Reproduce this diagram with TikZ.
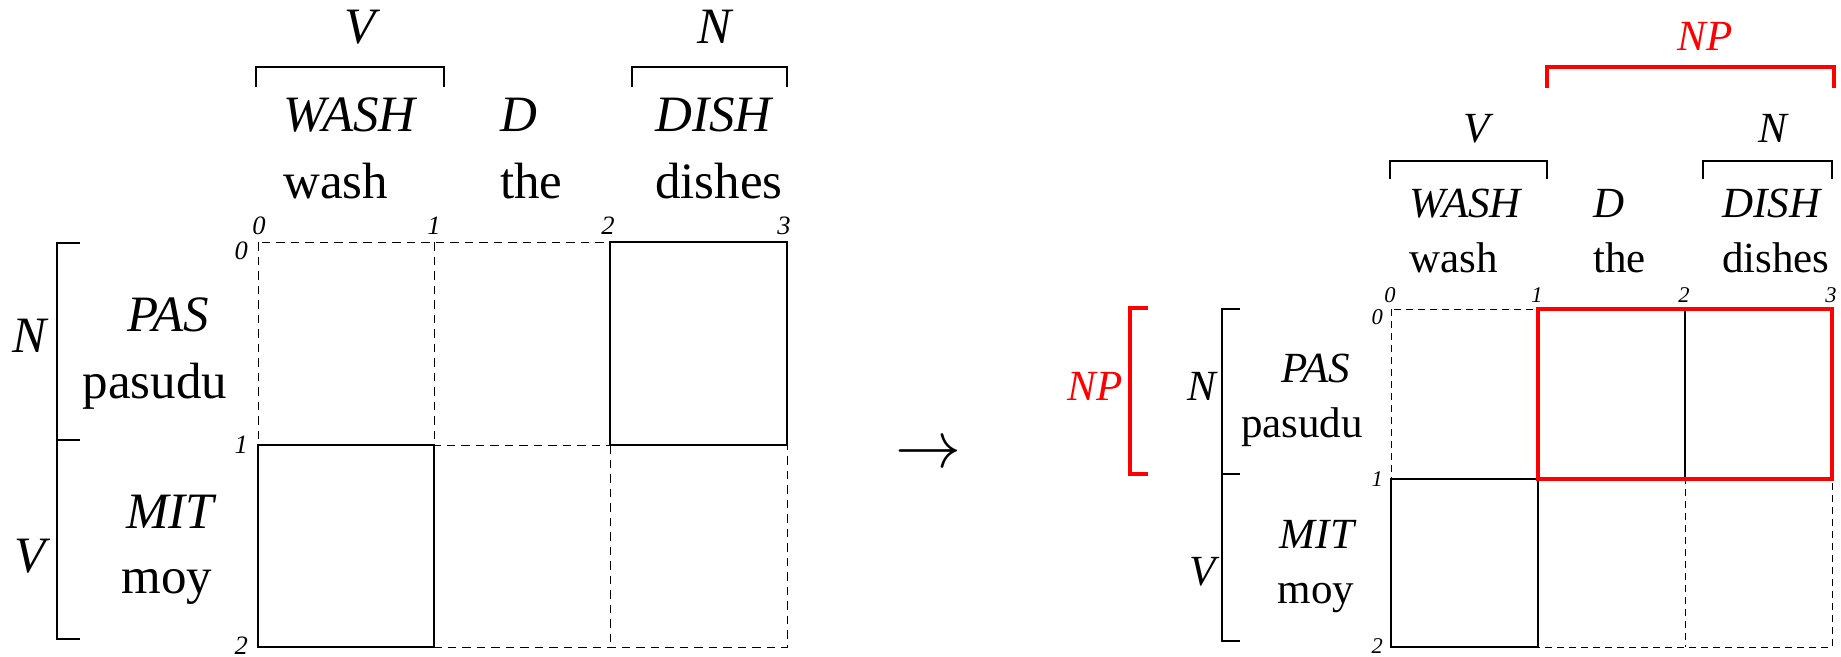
\documentclass[tikz,border=0pt]{standalone}
\usepackage{fontspec}
\setmainfont{Liberation Serif}
\begin{document}
\begin{tikzpicture}[x=1pt,y=-1pt,
  bigtxt/.style={inner sep=0pt, font=\fontsize{51}{60}\selectfont},
  smalltxt/.style={inner sep=0pt, font=\fontsize{43}{50}\selectfont},
  bignum/.style={inner sep=0pt, font=\fontsize{26.5}{30}\selectfont\itshape},
  smallnum/.style={inner sep=0pt, font=\fontsize{22.5}{26}\selectfont\itshape},
  gridL/.style={dash pattern=on 8.5pt off 6pt, line width=1pt},
  gridR/.style={dash pattern=on 7pt off 5pt, line width=0.9pt},
  thin/.style={line width=1.2pt},
  redthick/.style={draw=red, line width=4.5pt},
  redtxt/.style={text=red}]
\useasboundingbox (0,0) rectangle (1841,656);

%% ---------------- Left diagram ----------------
% dashed grid
\draw[gridL] (258,242) rectangle (787,647);
\draw[gridL] (434,242) -- (434,647);
\draw[gridL] (610,242) -- (610,647);
\draw[gridL] (258,445) -- (787,445);
% solid boxes
\draw[thin] (610,242) rectangle (787,445);
\draw[thin] (258,445) rectangle (434,647);

% top brackets
\draw[thin] (256,87) -- (256,67) -- (444,67) -- (444,87);
\draw[thin] (632,87) -- (632,67) -- (787,67) -- (787,87);
\node[bigtxt, anchor=base] (lV) at (360,43) {\itshape V};
\node[bigtxt, anchor=base] (lN) at (714,43) {\itshape N};

\node[bigtxt, anchor=base west] (lWASH) at (283,131) {\itshape WASH};
\node[bigtxt, anchor=base west] (lD) at (500,131) {\itshape D};
\node[bigtxt, anchor=base west] (lDISH) at (655,131) {\itshape DISH};
\node[bigtxt, anchor=base west] (lwash) at (283,198) {wash};
\node[bigtxt, anchor=base west] (lthe) at (500,198) {the};
\node[bigtxt, anchor=base west] (ldishes) at (655,198) {dishes};

% column numbers
\node[bignum, anchor=base] (lc0) at (259,234) {0};
\node[bignum, anchor=base] (lc1) at (434,234) {1};
\node[bignum, anchor=base] (lc2) at (608,234) {2};
\node[bignum, anchor=base] (lc3) at (784,234) {3};
% row numbers
\node[bignum, anchor=north east] (lr0) at (248,242) {0};
\node[bignum, anchor=east] (lr1) at (248,445) {1};
\node[bignum, anchor=east] (lr2) at (248,646) {2};

% left bracket
\draw[thin] (80,243) -- (57,243) -- (57,639) -- (80,639);
\draw[thin] (57,440) -- (80,440);
\node[bigtxt, anchor=base east] (lNl) at (47,352) {\itshape N};
\node[bigtxt, anchor=base east] (lVl) at (46,572) {\itshape V};
\node[bigtxt, anchor=base] (lPAS) at (168,331) {\itshape PAS};
\node[bigtxt, anchor=base] (lpasudu) at (155,398) {pasudu};
\node[bigtxt, anchor=base] (lMIT) at (170,528) {\itshape MIT};
\node[bigtxt, anchor=base] (lmoy) at (167,593) {moy};

%% ---------------- Arrow ----------------
\node[inner sep=0pt, scale=6.6, anchor=base west] (arr) at (894,467) {$\rightarrow$};

%% ---------------- Right diagram ----------------
\draw[gridR] (1391,309) rectangle (1832,647);
\draw[gridR] (1538,309) -- (1538,647);
\draw[gridR] (1685,309) -- (1685,647);
\draw[gridR] (1391,479) -- (1832,479);
\draw[thin] (1391,479) rectangle (1538,647);
\draw[thin] (1685,309) -- (1685,479);
\draw[redthick] (1538,309) rectangle (1832,479);

% top brackets
\draw[redthick] (1547,88) -- (1547,67) -- (1834,67) -- (1834,88);
\node[smalltxt, redtxt, anchor=base] (rNP) at (1705,50) {\itshape NP};
\draw[thin] (1390,179) -- (1390,161) -- (1547,161) -- (1547,179);
\draw[thin] (1703,179) -- (1703,161) -- (1832,161) -- (1832,179);
\node[smalltxt, anchor=base] (rV) at (1477,142) {\itshape V};
\node[smalltxt, anchor=base] (rN) at (1773,142) {\itshape N};

\node[smalltxt, anchor=base west] (rWASH) at (1409,217) {\itshape WASH};
\node[smalltxt, anchor=base west] (rD) at (1593,217) {\itshape D};
\node[smalltxt, anchor=base west] (rDISH) at (1722,217) {\itshape DISH};
\node[smalltxt, anchor=base west] (rwash) at (1409,272) {wash};
\node[smalltxt, anchor=base west] (rthe) at (1593,272) {the};
\node[smalltxt, anchor=base west] (rdishes) at (1722,272) {dishes};

% column numbers
\node[smallnum, anchor=base] (rc0) at (1390,302) {0};
\node[smallnum, anchor=base] (rc1) at (1537,302) {1};
\node[smallnum, anchor=base] (rc2) at (1684,302) {2};
\node[smallnum, anchor=base] (rc3) at (1831,302) {3};
% row numbers
\node[smallnum, anchor=north east] (rr0) at (1383,309) {0};
\node[smallnum, anchor=east] (rr1) at (1383,479) {1};
\node[smallnum, anchor=east] (rr2) at (1383,646) {2};

% left brackets
\draw[thin] (1240,309) -- (1222,309) -- (1222,641) -- (1240,641);
\draw[thin] (1222,474) -- (1240,474);
\draw[redthick] (1148,308) -- (1130,308) -- (1130,474) -- (1148,474);
\node[smalltxt, redtxt, anchor=base east] (rNPl) at (1123,400) {\itshape NP};
\node[smalltxt, anchor=base east] (rNl) at (1216,400) {\itshape N};
\node[smalltxt, anchor=base east] (rVl) at (1216,585) {\itshape V};
\node[smalltxt, anchor=base] (rPAS) at (1316,382) {\itshape PAS};
\node[smalltxt, anchor=base] (rpasudu) at (1302,437) {pasudu};
\node[smalltxt, anchor=base] (rMIT) at (1317,548) {\itshape MIT};
\node[smalltxt, anchor=base] (rmoy) at (1316,603) {moy};
\end{tikzpicture}
\end{document}
